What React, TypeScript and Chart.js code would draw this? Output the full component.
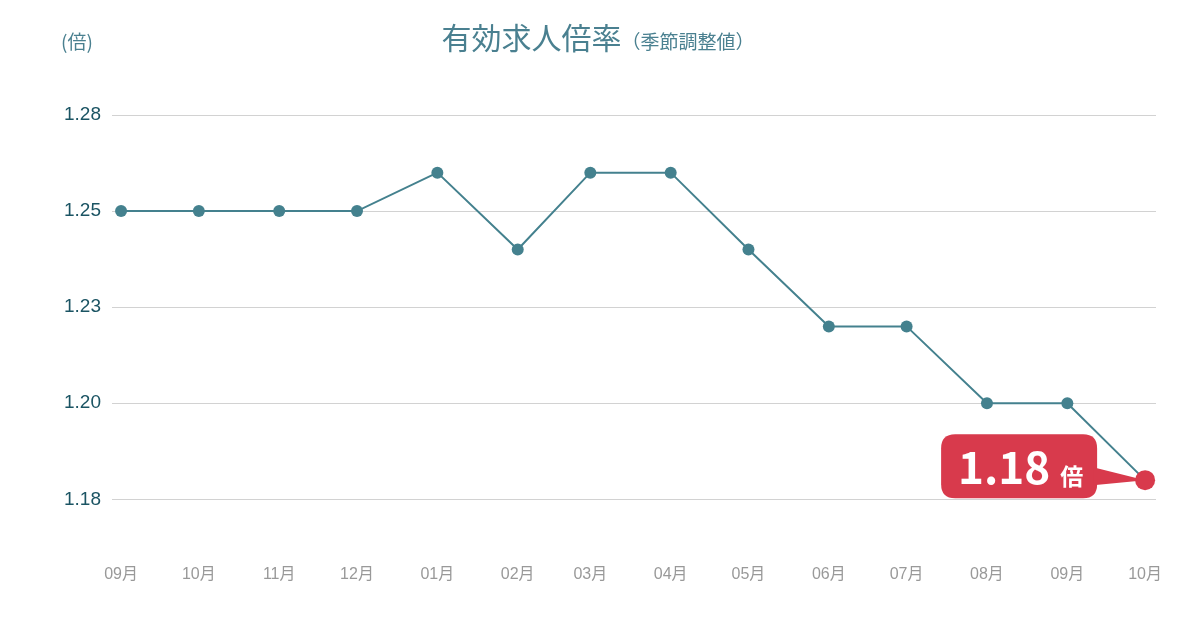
import React, { useEffect, useRef } from "react";
import { Chart, registerables } from "chart.js";

Chart.register(...registerables);

const DATES = [
  "2024-09-01", "2024-10-01", "2024-11-01", "2024-12-01", "2025-01-01", "2025-02-01", "2025-03-01",
  "2025-04-01", "2025-05-01", "2025-06-01", "2025-07-01", "2025-08-01", "2025-09-01", "2025-10-01",
];
const MONTHS = ["09月", "10月", "11月", "12月", "01月", "02月", "03月", "04月", "05月", "06月", "07月", "08月", "09月", "10月"];
const RATIOS = [1.25, 1.25, 1.25, 1.25, 1.26, 1.24, 1.26, 1.26, 1.24, 1.22, 1.22, 1.2, 1.2, 1.18];
const Y_TICKS = [1.175, 1.2, 1.225, 1.25, 1.275];
const Y_TICK_LABELS = ["1.18", "1.20", "1.23", "1.25", "1.28"];
const TITLE = "有効求人倍率";
const SUBTITLE = "（季節調整値）";
const UNIT = "(倍)";
const CALLOUT_VALUE = "1.18";
const CALLOUT_UNIT = "倍";

const TEAL = "#44818e";
const RED = "#d83a4c";
const JP = '"Noto Sans CJK JP", "Liberation Sans", sans-serif';
const LAT = '"Liberation Sans", "Noto Sans CJK JP", sans-serif';

const DAY = 86400000;
const T0 = Date.parse(DATES[0]);
const DAYS = DATES.map((d) => Math.round((Date.parse(d) - T0) / DAY));

const overlayPlugin = {
  id: "overlay",
  beforeDatasetsDraw(chart: any) {
    const ctx = chart.ctx;
    const meta = chart.getDatasetMeta(0);
    const last = meta.data[meta.data.length - 1];
    const px = last.x;
    const py = last.y;
    const right = px - 48;
    const left = right - 156;
    const top = py - 46;
    const bottom = py + 18;
    const r = 14;
    ctx.save();
    ctx.fillStyle = RED;
    ctx.beginPath();
    ctx.moveTo(left + r, top);
    ctx.lineTo(right - r, top);
    ctx.quadraticCurveTo(right, top, right, top + r);
    ctx.lineTo(right, bottom - r);
    ctx.quadraticCurveTo(right, bottom, right - r, bottom);
    ctx.lineTo(left + r, bottom);
    ctx.quadraticCurveTo(left, bottom, left, bottom - r);
    ctx.lineTo(left, top + r);
    ctx.quadraticCurveTo(left, top, left + r, top);
    ctx.closePath();
    ctx.fill();
    ctx.beginPath();
    ctx.moveTo(right - 4, py - 13);
    ctx.lineTo(px, py);
    ctx.lineTo(right - 4, py + 5);
    ctx.closePath();
    ctx.fill();
    ctx.fillStyle = "#ffffff";
    ctx.textBaseline = "alphabetic";
    ctx.textAlign = "left";
    ctx.font = `bold 44px ${JP}`;
    ctx.fillText(CALLOUT_VALUE, left + 17, py + 4);
    const w = ctx.measureText(CALLOUT_VALUE).width;
    ctx.font = `bold 23px ${JP}`;
    ctx.fillText(CALLOUT_UNIT, left + 17 + w + 10, py + 5);
    ctx.restore();
  },
  afterDraw(chart: any) {
    const ctx = chart.ctx;
    ctx.save();
    ctx.fillStyle = "#4a8090";
    ctx.textBaseline = "middle";
    ctx.textAlign = "left";
    ctx.font = `30px ${JP}`;
    const w1 = ctx.measureText(TITLE).width;
    ctx.font = `19px ${JP}`;
    const w2 = ctx.measureText(SUBTITLE).width;
    const start = 598 - (w1 + w2) / 2;
    ctx.font = `30px ${JP}`;
    ctx.fillText(TITLE, start, 38);
    ctx.font = `19px ${JP}`;
    ctx.fillText(SUBTITLE, start + w1, 42);
    ctx.font = `19px ${JP}`;
    ctx.fillText(UNIT, 61, 42);
    ctx.restore();
  },
};

export default function App() {
  const ref = useRef<HTMLCanvasElement>(null);
  useEffect(() => {
    if (!ref.current) return;
    const lastIdx = RATIOS.length - 1;
    const chart = new Chart(ref.current, {
      type: "line",
      data: {
        datasets: [
          {
            data: RATIOS.map((v, i) => ({ x: DAYS[i], y: v })),
            borderColor: TEAL,
            borderWidth: 2,
            tension: 0,
            pointRadius: (c: any) => (c.dataIndex === lastIdx ? 10 : 6),
            pointBackgroundColor: (c: any) => (c.dataIndex === lastIdx ? RED : TEAL),
            pointBorderWidth: 0,
            pointHoverRadius: 6,
          },
        ],
      },
      options: {
        responsive: false,
        animation: false,
        layout: { padding: { left: 0, top: 115, right: 44, bottom: 0 } },
        plugins: { legend: { display: false }, tooltip: { enabled: false }, title: { display: false } },
        scales: {
          x: {
            type: "linear",
            min: -3.5,
            max: 399.2,
            afterBuildTicks: (s: any) => {
              s.ticks = DAYS.map((d) => ({ value: d }));
            },
            afterFit: (s: any) => {
              s.height = 73;
            },
            grid: { display: false, drawTicks: false },
            border: { display: false },
            ticks: {
              autoSkip: false,
              maxRotation: 0,
              padding: 8,
              color: "#999999",
              font: { size: 16, family: LAT },
              callback: (v: any) => {
                const i = DAYS.indexOf(Math.round(Number(v)));
                return i >= 0 ? MONTHS[i] : "";
              },
            },
          },
          y: {
            min: 1.16,
            max: 1.275,
            afterBuildTicks: (s: any) => {
              s.ticks = Y_TICKS.map((v) => ({ value: v }));
            },
            afterFit: (s: any) => {
              s.width = 112;
            },
            grid: { color: "#d2d2d2", lineWidth: 1, drawTicks: false },
            border: { display: false },
            ticks: {
              padding: 11,
              color: "#1b5463",
              font: { size: 19, family: LAT },
              callback: (v: any) => {
                const i = Y_TICKS.findIndex((t) => Math.abs(t - Number(v)) < 1e-6);
                return i >= 0 ? Y_TICK_LABELS[i] : "";
              },
            },
          },
        },
      },
      plugins: [overlayPlugin],
    });
    return () => chart.destroy();
  }, []);
  return (
    <div style={{ position: "fixed", left: 0, top: 0, width: 1200, height: 630, background: "#fff" }}>
      <canvas ref={ref} width={1200} height={630} style={{ display: "block" }} />
    </div>
  );
}
